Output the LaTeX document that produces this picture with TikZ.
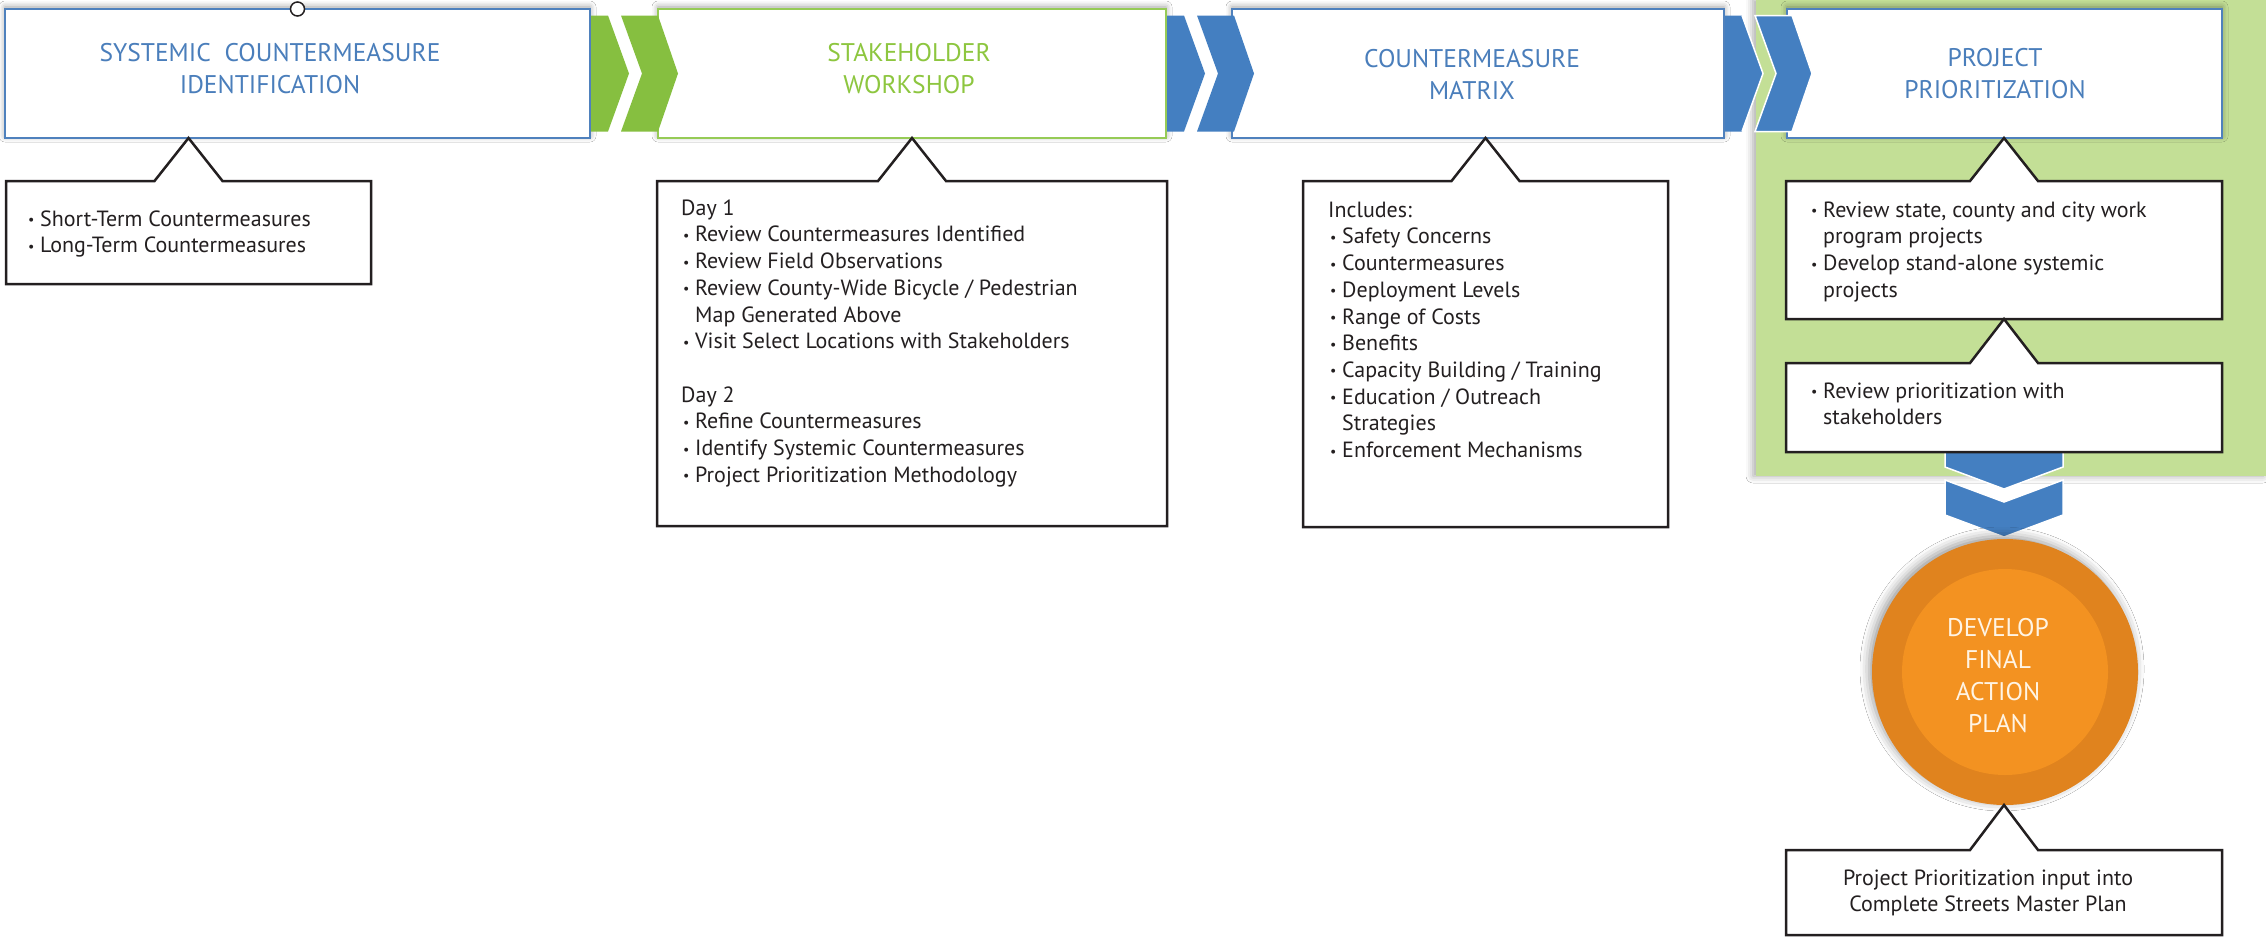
\documentclass[tikz,border=0pt]{standalone}
\usepackage{fontspec}
\setmainfont{PT Sans}
\usetikzlibrary{calc,shadows.blur}
\definecolor{bborder}{RGB}{79,129,189}
\definecolor{btitle}{RGB}{74,126,187}
\definecolor{gborder}{RGB}{150,203,86}
\definecolor{gtitle}{RGB}{141,198,63}
\definecolor{gchev}{RGB}{134,191,64}
\definecolor{bchev}{RGB}{68,127,193}
\definecolor{panelg}{RGB}{195,223,150}
\definecolor{ink}{RGB}{35,31,32}
\definecolor{orout}{RGB}{224,131,30}
\definecolor{orin}{RGB}{243,146,33}
\definecolor{cream}{RGB}{255,244,228}
\newcommand\bl{\makebox[14pt][l]{\hspace{2pt}\raisebox{1.5pt}{\fontsize{14}{14}\selectfont\textbullet}}}
\newcommand\ind{\hspace*{14pt}}
\newcommand\chevrons[3]{%
  \begin{scope}[shift={(#1.east)}]
    \fill[#2] (1,-58) -- (18,-58) -- (39,0) -- (18,58) -- (1,58) -- cycle;
    \path[draw=#3, line width=1.5pt] (18,-58) -- (39,0) -- (18,58);
    \path[fill=#2, draw=#3, line width=1.5pt] (31,-58) -- (68,-58) -- (88,0) -- (68,58) -- (31,58) -- (52,0) -- cycle;
  \end{scope}}
\newcommand\callout[2]{%
  \filldraw[cline] (#1.north west) -- ($(#1.north)+(-34,0)$) -- (#2) -- ($(#1.north)+(34,0)$) -- (#1.north east) -- (#1.south east) -- (#1.south west) -- cycle;}
\begin{document}
\begin{tikzpicture}[x=1pt,y=-1pt,
  softshadow/.style={blur shadow={shadow xshift=0pt, shadow yshift=2pt, shadow blur radius=6pt, shadow opacity=40}},
  stagebox/.style={rectangle, line width=2pt, fill=white, inner sep=0pt, outer sep=0pt, anchor=north west, minimum height=129pt, softshadow},
  stitle/.style={align=center, inner sep=0pt, font=\fontsize{25.5}{32}\selectfont},
  calloutbox/.style={rectangle, inner sep=0pt, outer sep=0pt, anchor=north west},
  cline/.style={draw=ink, line width=2.5pt, fill=white, line join=miter},
  ctext/.style={anchor=north west, align=left, inner sep=0pt, text=ink, font=\fontsize{22}{26.7}\selectfont},
]
\useasboundingbox (0,0) rectangle (2266,938);
\fill[white] (0,0) rectangle (2266,938);

% green panel
\node[fill=panelg, anchor=north west, minimum width=510pt, minimum height=476pt, inner sep=0pt, outer sep=0pt,
  blur shadow={shadow xshift=-3pt, shadow yshift=0pt, shadow blur radius=7pt, shadow opacity=35}] (panel) at (1756,0) {};

% stage boxes
\node[stagebox, draw=bborder, minimum width=585pt] (b1) at (5,9) {};
\node[stagebox, draw=gborder, minimum width=508pt] (b2) at (658,9) {};
\node[stagebox, draw=bborder, minimum width=492pt] (b3) at (1232,9) {};
\node[stagebox, draw=bborder, minimum width=435pt] (b4) at (1787,9) {};

% connection handle on the first box
\node[circle, draw=ink, fill=white, line width=1.5pt, minimum size=14pt, inner sep=0pt] (hdl) at (b1.north) {};

% chevrons between stages
\chevrons{b1}{gchev}{none}
\chevrons{b2}{bchev}{none}
\chevrons{b3}{bchev}{white}

% stage titles
\node[stitle, text=btitle] (tt1) at (270,69) {SYSTEMIC~~COUNTERMEASURE\\IDENTIFICATION};
\node[stitle, text=gtitle] (tt2) at (909,69) {STAKEHOLDER\\WORKSHOP};
\node[stitle, text=btitle] (tt3) at (1472,74) {COUNTERMEASURE\\MATRIX};
\node[stitle, text=btitle] (tt4) at (1995,74) {PROJECT\\PRIORITIZATION};

% callout geometry
\node[calloutbox, minimum width=365pt, minimum height=103pt] (c1) at (6,181) {};
\node[calloutbox, minimum width=510pt, minimum height=345pt] (c2) at (657,181) {};
\node[calloutbox, minimum width=365pt, minimum height=346pt] (c3) at (1303,181) {};
\node[calloutbox, minimum width=436pt, minimum height=138pt] (c4) at (1786,181) {};
\node[calloutbox, minimum width=436pt, minimum height=89pt] (c5) at (1786,363) {};
\node[calloutbox, minimum width=436pt, minimum height=85pt] (cb) at (1786,850) {};

% down chevrons
\begin{scope}[shift={(c5.south)}]
  \path[fill=bchev, draw=white, line width=1.5pt] (-59,-6) -- (59,-6) -- (59,15) -- (0,37) -- (-59,15) -- cycle;
  \path[fill=bchev, draw=white, line width=1.5pt] (-59,28) -- (0,50) -- (59,28) -- (59,63) -- (0,85) -- (-59,63) -- cycle;
\end{scope}

% callout outlines
\callout{c1}{c1.north |- b1.south}
\callout{c2}{c2.north |- b2.south}
\callout{c3}{c3.north |- b3.south}
\callout{c4}{c4.north |- b4.south}
\callout{c5}{c5.north |- c4.south}

% callout texts
\node[ctext] (tc1) at (26,207.3) {\strut\bl Short-Term Countermeasures\\
  \bl Long-Term Countermeasures};
\node[ctext] (tc2) at (681,196.3) {\strut Day 1\\
  \bl Review Countermeasures Identified\\
  \bl Review Field Observations\\
  \bl Review County-Wide Bicycle / Pedestrian\\
  \ind Map Generated Above\\
  \bl Visit Select Locations with Stakeholders\\[26.7pt]
  Day 2\\
  \bl Refine Countermeasures\\
  \bl Identify Systemic Countermeasures\\
  \bl Project Prioritization Methodology};
\node[ctext] (tc3) at (1328,198.3) {\strut Includes:\\
  \bl Safety Concerns\\
  \bl Countermeasures\\
  \bl Deployment Levels\\
  \bl Range of Costs\\
  \bl Benefits\\
  \bl Capacity Building / Training\\
  \bl Education / Outreach\\
  \ind Strategies\\
  \bl Enforcement Mechanisms};
\node[ctext] (tc4) at (1809,198.3) {\strut\bl Review state, county and city work\\
  \ind program projects\\
  \bl Develop stand-alone systemic\\
  \ind projects};
\node[ctext] (tc5) at (1809,379.3) {\strut\bl Review prioritization with\\
  \ind stakeholders};

% final circle
\node[circle, fill=orout, minimum size=266pt, inner sep=0pt, outer sep=0pt,
  blur shadow={shadow xshift=-3pt, shadow yshift=3pt, shadow blur radius=9pt, shadow opacity=40}] (circ) at (2005,672) {};
\fill[orin] (circ.center) circle[radius=103pt];
\node[stitle, text=cream] (ctx) at (1998,675.5) {DEVELOP\\FINAL\\ACTION\\PLAN};

% bottom callout
\callout{cb}{cb.north |- circ.south}
\node[ctext, anchor=center, align=center] (tb) at (1988,893) {Project Prioritization input into\\Complete Streets Master Plan};
\end{tikzpicture}
\end{document}
